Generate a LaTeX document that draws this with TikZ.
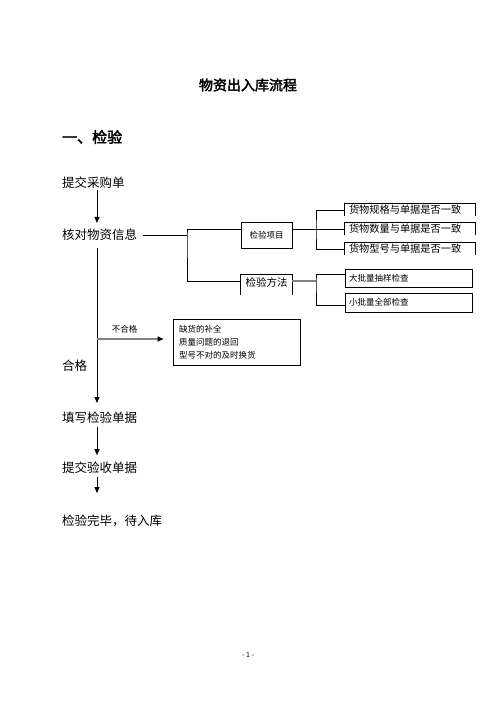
\documentclass[tikz,border=0pt]{standalone}
\usepackage{fontspec}
\setmainfont[AutoFakeBold=2.5]{Noto Sans CJK SC}
\usepackage{tikz}
\usetikzlibrary{arrows.meta, calc}
\definecolor{lineblk}{HTML}{000000}
\definecolor{linegray}{HTML}{808080}
\tikzset{
  titletxt/.style = {inner sep=0pt, font=\fontsize{14}{16}\selectfont\bfseries},
  headtxt/.style  = {inner sep=0pt, anchor=west, font=\fontsize{15}{17}\selectfont\bfseries},
  steptxt/.style  = {inner sep=0pt, anchor=west, font=\fontsize{12.5}{14}\selectfont},
  smalltxt/.style = {inner sep=0pt, font=\fontsize{8.5}{10}\selectfont},
  box/.style      = {rectangle, draw=lineblk, line width=0.9pt, inner sep=0pt, align=center},
  openbox/.style  = {rectangle, inner sep=0pt, align=center},
  specbox/.style  = {rectangle, inner xsep=4pt, inner ysep=0pt, text width=122pt, align=left,
                     minimum height=12pt, font=\fontsize{10.2}{12}\selectfont},
  conn/.style     = {line width=0.9pt, draw=lineblk},
  grayconn/.style = {line width=2pt, draw=linegray},
  flow/.style     = {-{Triangle[length=6pt, width=5pt]}, line width=0.9pt, draw=lineblk},
  grayflow/.style = {-{Triangle[length=6pt, width=5pt, color=lineblk]}, line width=2pt, draw=linegray},
}
\begin{document}
\begin{tikzpicture}[x=1pt, y=-1pt]
  \useasboundingbox (0,0) rectangle (496,702);
  \node[titletxt] (title) at (248,85) {物资出入库流程};
  \node[headtxt] (head) at (62,137) {一、检验};
  % main steps
  \node[steptxt] (s1) at (62,183) {提交采购单};
  \node[steptxt] (s2) at (62,235) {核对物资信息};
  \node[steptxt] (ok) at (62,366) {合格};
  \node[steptxt] (s3) at (62,418) {填写检验单据};
  \node[steptxt] (s4) at (62,468) {提交验收单据};
  \node[steptxt] (s5) at (62,521) {检验完毕，待入库};
  \coordinate (spine) at (97,0);
  \foreach \a/\b/\p/\q in {s1/s2/1/6, s2/s3/6.5/9, s3/s4/2.75/6.75, s4/s5/2.75/21.75}{\draw[flow, shorten <=\p pt, shorten >=\q pt] (\a.south -| spine) -- (\b.north -| spine);}
  % inspection items and methods
  \node[box, minimum width=51pt, minimum height=26pt, font=\fontsize{8.5}{10}\selectfont] (item) at (266.5,235) {检验项目};
  \node[openbox, minimum width=51pt, minimum height=20pt, text depth=6pt, font=\fontsize{10.5}{12}\selectfont] (method) at (266.5,285) {检验方法};
  \node[specbox] (spec1) at (410,210) {货物规格与单据是否一致};
  \node[specbox] (spec2) at (410,229) {货物数量与单据是否一致};
  \node[specbox] (spec3) at (410,249) {货物型号与单据是否一致};
  \foreach \n in {method,spec1,spec2,spec3}{\draw[conn] (\n.south west) -- (\n.north west) -- (\n.north east) -- (\n.south east);}
  \node[box, minimum width=127pt, minimum height=18pt, text width=119pt, align=left, font=\fontsize{8.5}{10}\selectfont] (big) at (408.5,278) {大批量抽样检查};
  \node[box, minimum width=127pt, minimum height=19pt, text width=119pt, align=left, font=\fontsize{8.5}{10}\selectfont] (small) at (408.5,302.5) {小批量全部检查};
  \coordinate (fork1) at (187,235);
  \coordinate (fork2) at (316,229);
  \coordinate (fork3) at (316,281);
  \draw[conn, shorten <=6pt] (s2.east) -- (fork1);
  \draw[conn] ([yshift=6pt]item.west) -| (fork1) |- ([yshift=4pt]method.west);
  \draw[conn] (item.east |- spec2.west) -- (spec2.west);
  \draw[conn] (spec1.west) -| (fork2) |- (spec3.west);
  \draw[grayconn] (fork3 -| method.east) -- (fork3);
  \draw[conn] ([yshift=4pt]big.west) -| (fork3) |- ([yshift=-2.5pt]small.west);
  % rejected goods
  \node[box, minimum width=127pt, minimum height=46pt, inner xsep=6pt, text width=115pt, align=left, font=\fontsize{8.5}{13}\selectfont] (fix) at (236.5,342) {缺货的补全\\质量问题的退回\\型号不对的及时换货};
  \draw[grayflow, shorten >=9pt] ([yshift=3pt]fix.west -| spine) -- ([yshift=3pt]fix.west);
  \node[smalltxt] (fail) at (124.5,329) {不合格};
  \node[font=\fontsize{7}{8}\selectfont, inner sep=0pt] (page) at (248,655) {- 1 -};
\end{tikzpicture}
\end{document}
